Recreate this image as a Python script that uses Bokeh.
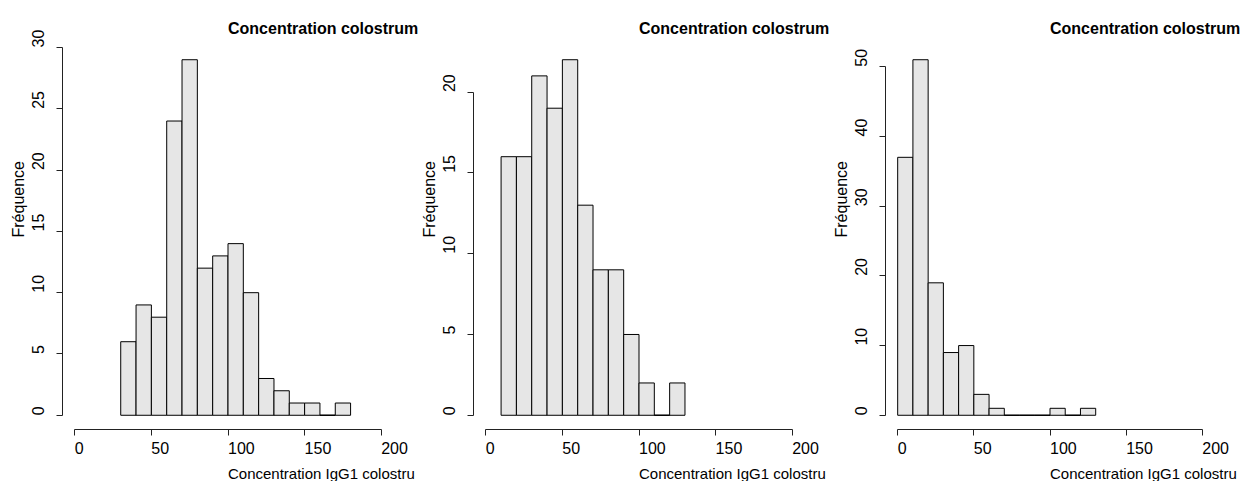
from bokeh.plotting import figure
from bokeh.layouts import row
from bokeh.models import Range1d, FixedTicker, Label
from bokeh.embed import file_html
from bokeh.resources import INLINE
import math

# ---- data ----
title_text = "Concentration colostrum"
xlab_text = "Concentration IgG1 colostru"
ylab_text = "Fréquence"

x_ticks = [0, 50, 100, 150, 200]

edges_1 = [30, 40, 50, 60, 70, 80, 90, 100, 110, 120, 130, 140, 150, 160, 170, 180]
counts_1 = [6, 9, 8, 24, 29, 12, 13, 14, 10, 3, 2, 1, 1, 0, 1]
y_ticks_1 = [0, 5, 10, 15, 20, 25, 30]

edges_2 = [10, 20, 30, 40, 50, 60, 70, 80, 90, 100, 110, 120, 130]
counts_2 = [16, 16, 21, 19, 22, 13, 9, 9, 5, 2, 0, 2]
y_ticks_2 = [0, 5, 10, 15, 20]

edges_3 = [0, 10, 20, 30, 40, 50, 60, 70, 80, 90, 100, 110, 120, 130]
counts_3 = [37, 51, 19, 9, 10, 3, 1, 0, 0, 0, 1, 0, 1]
y_ticks_3 = [0, 10, 20, 30, 40, 50]

FONT = "Liberation Sans"
FS = "16px"
H = 481
NBSP = "\u00a0"


def left_aligned(v):
    # tick labels in the reference start at the tick instead of being centred on it
    s = str(v)
    return NBSP * (2 * len(s)) + s


def panel(edges, counts, yticks, width, left, right):
    ymax = max(counts)
    xlo, xhi = x_ticks[0], x_ticks[-1]
    pad = 0.04 * (xhi - xlo)
    p = figure(width=width, height=H, output_backend="svg", toolbar_location=None,
               x_range=Range1d(xlo - pad, xhi + pad),
               y_range=Range1d(-0.04 * ymax, 1.04 * ymax),
               min_border_left=left, min_border_right=right,
               min_border_top=45, min_border_bottom=52)
    p.outline_line_color = None
    p.xgrid.visible = False
    p.ygrid.visible = False
    p.background_fill_color = "white"
    p.border_fill_color = "white"

    p.quad(left=edges[:-1], right=edges[1:], bottom=0, top=counts,
           fill_color="#E6E6E6", line_color="black", line_width=1)
    # empty bins are drawn as a flat line on the baseline
    zl = [edges[i] for i, c in enumerate(counts) if c == 0]
    zr = [edges[i + 1] for i, c in enumerate(counts) if c == 0]
    if zl:
        p.segment(x0=zl, x1=zr, y0=0, y1=0, line_color="black", line_width=1)

    for ax, ticks in ((p.xaxis[0], x_ticks), (p.yaxis[0], yticks)):
        ax.ticker = FixedTicker(ticks=ticks, minor_ticks=[])
        ax.bounds = (ticks[0], ticks[-1])
        ax.major_tick_out = 6
        ax.major_tick_in = 0
        ax.minor_tick_line_color = None
        ax.axis_line_color = "#222222"
        ax.major_tick_line_color = "#222222"
        ax.major_label_overrides = {t: left_aligned(t) for t in ticks}
        ax.major_label_text_font = FONT
        ax.major_label_text_font_size = FS
        ax.major_label_text_color = "black"
    p.xaxis.major_label_standoff = 4
    p.yaxis.major_label_standoff = 9
    p.yaxis.major_label_orientation = "parallel"

    xmid = (p.x_range.start + p.x_range.end) / 2
    ymid = (p.y_range.start + p.y_range.end) / 2

    # x label
    p.add_layout(Label(x=xmid, y=p.y_range.start, text=xlab_text, y_offset=-44,
                       text_align="left", text_baseline="alphabetic",
                       text_font=FONT, text_font_size="15px", text_color="black"), "below")
    # y label
    p.add_layout(Label(x=p.x_range.start, y=ymid, text=ylab_text, x_offset=-44,
                       angle=math.pi / 2, text_align="left", text_baseline="alphabetic",
                       text_font=FONT, text_font_size=FS, text_color="black"), "left")
    # title
    p.add_layout(Label(x=xmid, y=p.y_range.end, text=title_text, y_offset=16.7,
                       text_align="left", text_baseline="alphabetic",
                       text_font=FONT, text_font_style="bold",
                       text_font_size=FS, text_color="black"), "above")
    return p


p1 = panel(edges_1, counts_1, y_ticks_1, 420, 62, 27)
p2 = panel(edges_2, counts_2, y_ticks_2, 413, 53, 29)
p3 = panel(edges_3, counts_3, y_ticks_3, 411, 50, 30)

layout = row(p1, p2, p3, spacing=0)

open("out.html", "w").write(file_html(layout, INLINE))
